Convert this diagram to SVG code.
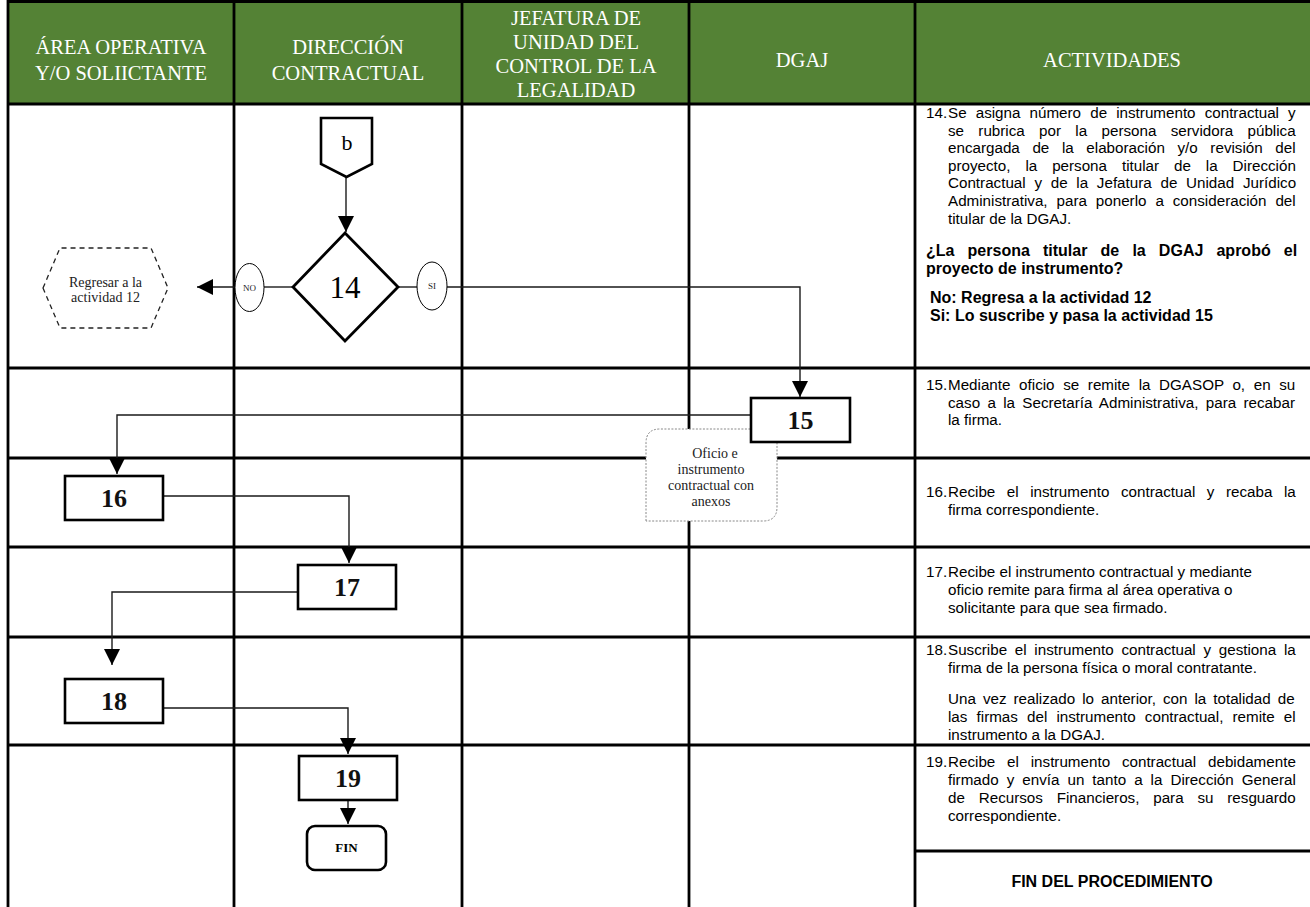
<svg xmlns="http://www.w3.org/2000/svg" width="1310" height="907" viewBox="0 0 1310 907">
<defs>
<style>
.grid{stroke:#000;stroke-width:2.8;fill:none}
.hd{font-family:"Liberation Serif","DejaVu Serif",serif;font-size:20.5px;fill:#fff;text-anchor:middle}
.box{fill:#fff;stroke:#000;stroke-width:2.6}
.num{font-family:"Liberation Serif","DejaVu Serif",serif;font-size:26px;font-weight:bold;text-anchor:middle;fill:#111}
.conn{fill:none;stroke:#1a1a1a;stroke-width:1.4}
.act{font-family:"Liberation Sans",Arial,sans-serif;font-size:15.2px;fill:#000}
.b{font-weight:bold;font-size:16px}
.small{font-family:"Liberation Serif","DejaVu Serif",serif;font-size:14px;text-anchor:middle;fill:#222}
.tiny{font-family:"Liberation Serif","DejaVu Serif",serif;font-size:9px;text-anchor:middle;fill:#222}
</style>
<marker id="arrow" markerUnits="userSpaceOnUse" markerWidth="16" markerHeight="16" viewBox="0 0 16 16" refX="16" refY="8" orient="auto">
<path d="M0,0 L16,8 L0,16 Z" fill="#000"/>
</marker>
</defs>

<rect x="0" y="0" width="1310" height="907" fill="#fff"/>

<!-- header band -->
<g id="header">
<rect x="8" y="0" width="1302" height="104" fill="#548235"/>
<text class="hd" x="121" y="54">ÁREA OPERATIVA</text>
<text class="hd" x="121" y="80">Y/O SOLIICTANTE</text>
<text class="hd" x="348" y="54">DIRECCIÓN</text>
<text class="hd" x="348" y="80">CONTRACTUAL</text>
<text class="hd" x="576" y="25">JEFATURA DE</text>
<text class="hd" x="576" y="49">UNIDAD DEL</text>
<text class="hd" x="576" y="73">CONTROL DE LA</text>
<text class="hd" x="576" y="97">LEGALIDAD</text>
<text class="hd" x="802" y="67">DGAJ</text>
<text class="hd" x="1112" y="67">ACTIVIDADES</text>
</g>

<!-- swimlane grid -->
<g id="grid" class="grid">
<path d="M8,1.5 H1310"/>
<path d="M8,104 H1310"/>
<path d="M8,368 H1310"/>
<path d="M8,458 H1310"/>
<path d="M8,547 H1310"/>
<path d="M8,637 H1310"/>
<path d="M8,745 H1310"/>
<path d="M915,851 H1310"/>
<path d="M8,0 V907"/>
<path d="M234,0 V907"/>
<path d="M462,0 V907"/>
<path d="M689,0 V907"/>
<path d="M915,0 V907"/>
</g>

<!-- connectors -->
<g id="connectors" class="conn">
<path d="M346,177 V232" marker-end="url(#arrow)"/>
<path d="M293,287 H264"/>
<path d="M235,287 H197" marker-end="url(#arrow)"/>
<path d="M398,287 H417"/>
<path d="M447,287 H800 V397" marker-end="url(#arrow)"/>
<path d="M750,415 H117 V474" marker-end="url(#arrow)"/>
<path d="M163,496 H349 V563" marker-end="url(#arrow)"/>
<path d="M298,592 H112 V665" marker-end="url(#arrow)"/>
<path d="M163,708 H348 V754" marker-end="url(#arrow)"/>
<path d="M348,800 V824" marker-end="url(#arrow)"/>
</g>

<!-- off-page connector b -->
<g id="node-b">
<path d="M321,118 H372 V164 L346.5,177 L321,164 Z" fill="#fff" stroke="#000" stroke-width="2.6"/>
<text x="347" y="150" font-family="Liberation Serif, DejaVu Serif, serif" font-size="22" text-anchor="middle">b</text>
</g>

<!-- decision 14 -->
<g id="node-14">
<path d="M345,233 L398,287 L345,341 L293,287 Z" fill="#fff" stroke="#000" stroke-width="2.8"/>
<text x="345" y="298" font-family="Liberation Serif, DejaVu Serif, serif" font-size="31" text-anchor="middle">14</text>
</g>

<g id="label-no">
<ellipse cx="249.5" cy="287.5" rx="14.5" ry="24" fill="#fff" stroke="#000" stroke-width="1"/>
<text class="tiny" x="249.5" y="291">NO</text>
</g>

<g id="label-si">
<ellipse cx="432" cy="286" rx="15" ry="24" fill="#fff" stroke="#000" stroke-width="1"/>
<text class="tiny" x="432" y="289">SI</text>
</g>

<!-- return to activity 12 -->
<g id="node-return12">
<path d="M43,288 L60,248 H151 L168,288 L151,328 H60 Z" fill="#fff" stroke="#222" stroke-width="1.3" stroke-dasharray="5,4"/>
<text class="small" x="105.5" y="287">Regresar a la</text>
<text class="small" x="105.5" y="302">actividad 12</text>
</g>

<!-- document attached to 15 -->
<g id="node-doc">
<path d="M646,521 V443 Q646,429 660,429 H777 V507 Q777,521 763,521 Z" fill="#fff" stroke="#888" stroke-width="1" stroke-dasharray="2,1.5"/>
<text class="small" x="715" y="458">Oficio e</text>
<text class="small" x="711" y="474">instrumento</text>
<text class="small" x="711" y="490">contractual con</text>
<text class="small" x="711" y="506">anexos</text>
</g>

<g id="node-15">
<rect class="box" x="751" y="398" width="99" height="44"/>
<text class="num" x="800.5" y="429">15</text>
</g>
<g id="node-16">
<rect class="box" x="65" y="476" width="98" height="44"/>
<text class="num" x="114" y="507">16</text>
</g>
<g id="node-17">
<rect class="box" x="298" y="565" width="98" height="44"/>
<text class="num" x="347" y="596">17</text>
</g>
<g id="node-18">
<rect class="box" x="65" y="679" width="98" height="44"/>
<text class="num" x="114" y="710">18</text>
</g>
<g id="node-19">
<rect class="box" x="299" y="756" width="98" height="44"/>
<text class="num" x="348" y="787">19</text>
</g>
<g id="node-fin">
<rect class="box" x="307" y="826" width="79" height="44" rx="8"/>
<text x="346.5" y="852" font-family="Liberation Serif, DejaVu Serif, serif" font-size="13" font-weight="bold" text-anchor="middle">FIN</text>
</g>

<!-- activity descriptions -->
<g id="activities" class="act">
<text x="926" y="118">14.</text>
<text x="948" y="118" word-spacing="4.9">Se asigna número de instrumento contractual y</text>
<text x="948" y="136" word-spacing="10.1">se rubrica por la persona servidora pública</text>
<text x="948" y="153" word-spacing="8.4">encargada de la elaboración y/o revisión del</text>
<text x="948" y="171" word-spacing="10.7">proyecto, la persona titular de la Dirección</text>
<text x="948" y="188" word-spacing="4.5">Contractual y de la Jefatura de Unidad Jurídico</text>
<text x="948" y="206" word-spacing="4.7">Administrativa, para ponerlo a consideración del</text>
<text x="948" y="224">titular de la DGAJ.</text>
<text class="b" x="926" y="256" word-spacing="8.7">¿La persona titular de la DGAJ aprobó el</text>
<text class="b" x="926" y="274">proyecto de instrumento?</text>
<text class="b" x="930" y="303">No: Regresa a la actividad 12</text>
<text class="b" x="930" y="321">Si: Lo suscribe y pasa la actividad 15</text>

<text x="926" y="390">15.</text>
<text x="948" y="390" word-spacing="4.4">Mediante oficio se remite la DGASOP o, en su</text>
<text x="948" y="408" word-spacing="3.1">caso a la Secretaría Administrativa, para recabar</text>
<text x="948" y="425">la firma.</text>

<text x="926" y="497">16.</text>
<text x="948" y="497" word-spacing="7.3">Recibe el instrumento contractual y recaba la</text>
<text x="948" y="515">firma correspondiente.</text>

<text x="926" y="577">17.</text>
<text x="948" y="577">Recibe el instrumento contractual y mediante</text>
<text x="948" y="595">oficio remite para firma al área operativa o</text>
<text x="948" y="613">solicitante para que sea firmado.</text>

<text x="926" y="655">18.</text>
<text x="948" y="655" word-spacing="3.5">Suscribe el instrumento contractual y gestiona la</text>
<text x="948" y="673">firma de la persona física o moral contratante.</text>
<text x="948" y="704" word-spacing="2.8">Una vez realizado lo anterior, con la totalidad de</text>
<text x="948" y="722" word-spacing="4.9">las firmas del instrumento contractual, remite el</text>
<text x="948" y="740">instrumento a la DGAJ.</text>

<text x="926" y="767">19.</text>
<text x="948" y="767" word-spacing="7.6">Recibe el instrumento contractual debidamente</text>
<text x="948" y="785" word-spacing="3.8">firmado y envía un tanto a la Dirección General</text>
<text x="948" y="803" word-spacing="9.6">de Recursos Financieros, para su resguardo</text>
<text x="948" y="821">correspondiente.</text>

<text class="b" x="1112" y="887" text-anchor="middle" font-size="17">FIN DEL PROCEDIMIENTO</text>
</g>
</svg>
